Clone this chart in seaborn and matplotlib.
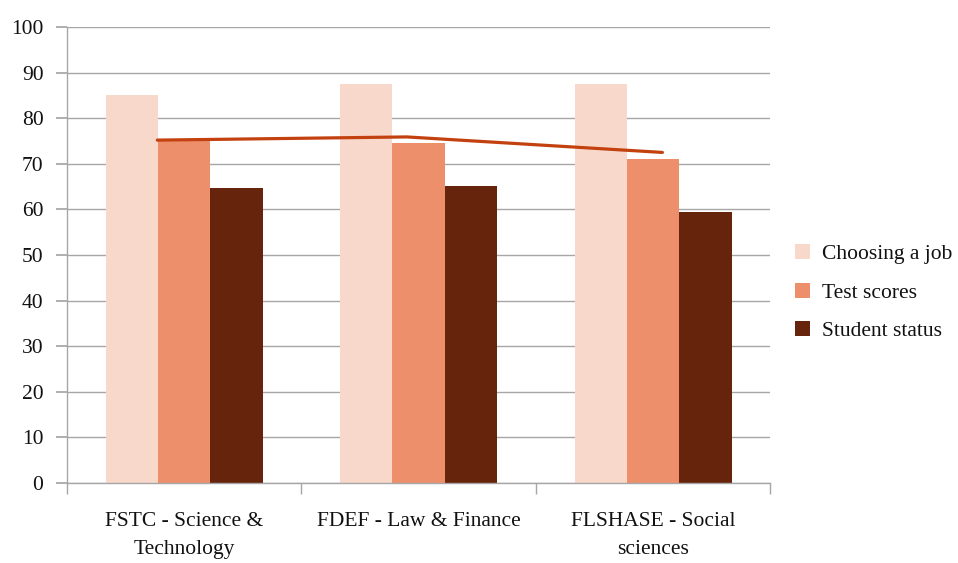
import matplotlib
matplotlib.use("Agg")
import matplotlib.pyplot as plt
import seaborn as sns
import pandas as pd
import numpy as np
from matplotlib.patches import Patch
from matplotlib.ticker import FixedLocator

categories = ["FSTC - Science &\nTechnology", "FDEF - Law & Finance", "FLSHASE - Social\nsciences"]
series = ["Choosing a job", "Test scores", "Student status"]
choosing_job = [85.1, 87.6, 87.6]
test_scores = [75.1, 74.5, 71.0]
student_status = [64.8, 65.1, 59.5]
line_values = [75.2, 75.9, 72.5]
line_offsets = [-0.115, -0.05, 0.04]
colors = ["#F8D8CB", "#EE8F6C", "#67240D"]
line_color = "#C2410F"

df = pd.DataFrame({
    "category": categories * 3,
    "series": [series[0]] * 3 + [series[1]] * 3 + [series[2]] * 3,
    "value": choosing_job + test_scores + student_status,
})

sns.set_theme(style="white")
plt.rcParams["font.family"] = ["Liberation Serif", "DejaVu Serif"]

fig = plt.figure(figsize=(9.58, 5.63), dpi=100)
ax = fig.add_axes([0.07, 0.142, 0.734, 0.810])

sns.barplot(data=df, x="category", y="value", hue="series", order=categories,
            hue_order=series, palette=colors, width=0.67, gap=0, saturation=1,
            ax=ax, legend=False, edgecolor="none", linewidth=0)

xs = np.arange(len(categories)) + np.array(line_offsets)
ax.plot(xs, line_values, color=line_color, lw=2.3, zorder=5)

ax.set_ylim(0, 100)
ax.set_xlim(-0.5, 2.5)
ax.set_yticks(range(0, 101, 10))
ax.yaxis.grid(True, color="#A6A6A6", lw=1)
ax.set_axisbelow(True)
ax.set_xlabel("")
ax.set_ylabel("")
for s in ["top", "right"]:
    ax.spines[s].set_visible(False)
for s in ["left", "bottom"]:
    ax.spines[s].set_color("#A6A6A6")
    ax.spines[s].set_linewidth(1)

ax.tick_params(axis="y", which="major", left=True, length=8, color="#A6A6A6",
               labelsize=15.5, pad=9, labelcolor="#111111")
ax.tick_params(axis="x", which="major", bottom=False, labelsize=15.5, pad=15,
               labelcolor="#111111")
ax.xaxis.set_minor_locator(FixedLocator([-0.5, 0.5, 1.5, 2.5]))
ax.tick_params(axis="x", which="minor", bottom=True, length=8, color="#A6A6A6")
for lbl in ax.get_xticklabels():
    lbl.set_linespacing(1.65)
    lbl.set_verticalalignment("top")

handles = [Patch(facecolor=c, edgecolor="none") for c in colors]
leg = fig.legend(handles, series, loc="center left", bbox_to_anchor=(0.81, 0.48),
                 frameon=False, fontsize=15.5, handlelength=0.7, handleheight=0.7,
                 handletextpad=0.55, labelspacing=0.85)
for t in leg.get_texts():
    t.set_color("#111111")

fig.savefig("out.png", dpi=100)
